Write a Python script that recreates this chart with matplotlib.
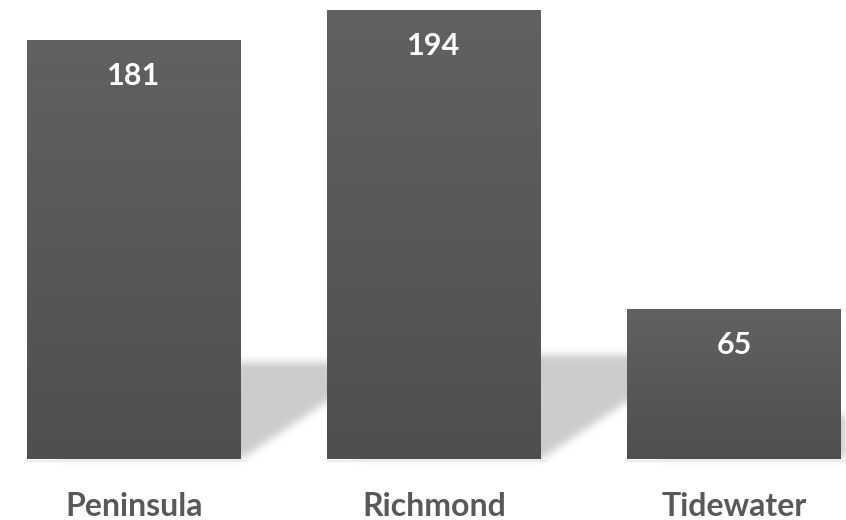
import numpy as np
import matplotlib
matplotlib.use("Agg")
import matplotlib.pyplot as plt
from matplotlib.patches import Rectangle

# Data
regions = ["Peninsula", "Richmond", "Tidewater"]
counts = [181, 194, 65]

# Style
W, H, DPI = 846, 520, 100
bar_width = 0.713
top_color = np.array([0x61, 0x61, 0x61]) / 255
bottom_color = np.array([0x4f, 0x4f, 0x4f]) / 255
shadow_heights = [42, 45, 19]        # height of the cast shadow behind each bar
shadow_skew = 0.0116                 # horizontal shift per unit of height
shadow_gray = 0.80

fig = plt.figure(figsize=(W / DPI, H / DPI), dpi=DPI)
ax = fig.add_axes([0, 0, 1, 1])
x0, x1 = -134 / 300, (W - 134) / 300
y0, y1 = -61 / 2.315, (H - 61) / 2.315
ax.set_xlim(x0, x1)
ax.set_ylim(y0, y1)
ax.axis("off")

# Soft cast shadows, rasterised and blurred
cols = x0 + (np.arange(W) + 0.5) / W * (x1 - x0)
rows = y1 - (np.arange(H) + 0.5) / H * (y1 - y0)
X, Y = np.meshgrid(cols, rows)
mask = np.zeros((H, W))
for i, (v, hs) in enumerate(zip(counts, shadow_heights)):
    left, right = i - bar_width / 2, i + bar_width / 2
    m = (Y >= 0.5) & (Y <= hs) & (X >= left + 0.1) & (X <= right + Y * shadow_skew)
    mask[m] = 1.0

def blur(a, sigma):
    r = int(3 * sigma)
    k = np.exp(-0.5 * (np.arange(-r, r + 1) / sigma) ** 2)
    k /= k.sum()
    a = np.apply_along_axis(lambda c: np.convolve(c, k, mode="same"), 0, a)
    a = np.apply_along_axis(lambda c: np.convolve(c, k, mode="same"), 1, a)
    return a

mask = blur(mask, 4)
rgba = np.zeros((H, W, 4))
rgba[..., :3] = shadow_gray
rgba[..., 3] = mask
ax.imshow(rgba, extent=(x0, x1, y0, y1), aspect="auto", zorder=1,
          interpolation="bilinear")

# Faint ground line under each bar
for i in range(len(counts)):
    ax.plot([i - bar_width / 2, i + bar_width / 2 + 0.02], [-1.0, -1.0],
            color="#ececec", lw=1.5, zorder=1.5, solid_capstyle="butt")

# Bars with vertical gradient
for i, v in enumerate(counts):
    left = i - bar_width / 2
    grad = np.linspace(0, 1, 256)[:, None]
    img = top_color[None, None, :] * (1 - grad[..., None]) + bottom_color[None, None, :] * grad[..., None]
    im = ax.imshow(img, extent=(left, left + bar_width, 0, v), aspect="auto",
                   zorder=2, interpolation="bilinear")
    rect = Rectangle((left, 0), bar_width, v, facecolor="none", edgecolor="none")
    ax.add_patch(rect)
    im.set_clip_path(rect)

    ax.annotate(str(v), xy=(i, v), xytext=(0, -26), textcoords="offset points",
                ha="center", va="center", color="white", fontsize=22,
                fontfamily="Lato", fontweight="bold", zorder=3)
    ax.annotate(regions[i], xy=(i, 0), xytext=(0, -34), textcoords="offset points",
                ha="center", va="center", color="#595959", fontsize=23,
                fontfamily="Lato", fontweight="bold", zorder=3)

ax.set_xlim(x0, x1)
ax.set_ylim(y0, y1)
fig.savefig("out.png", dpi=DPI)
